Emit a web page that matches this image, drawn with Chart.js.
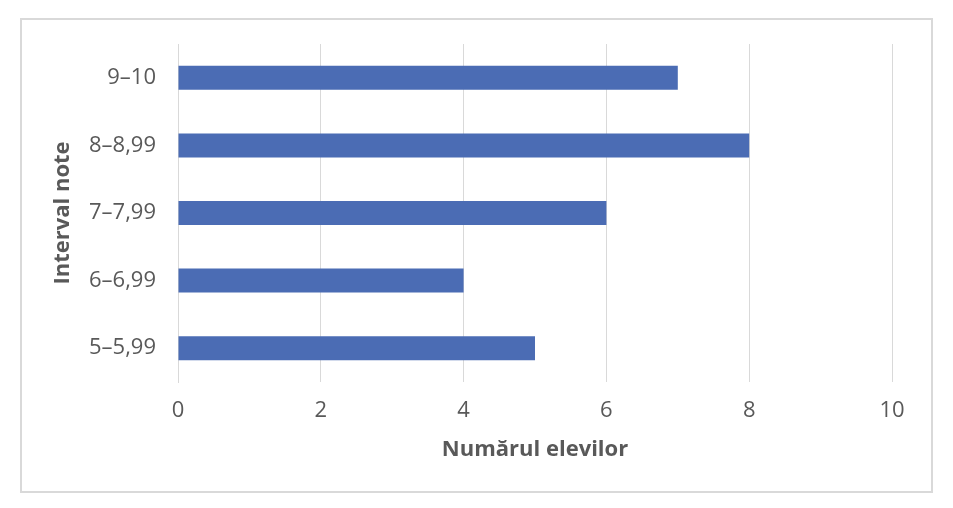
<!DOCTYPE html>
<html>
<head>
<meta charset="utf-8">
<script src="https://cdn.jsdelivr.net/npm/chart.js@4"></script>
<style>
  html, body { margin: 0; padding: 0; background: #fff; }
  #wrap { width: 953px; height: 508px; position: relative; }
</style>
</head>
<body>
<div id="wrap"><canvas id="gradeChart" width="953" height="508"></canvas></div>
<script>
// Data
const intervals = ["9–10", "8–8,99", "7–7,99", "6–6,99", "5–5,99"];
const studentCounts = [7, 8, 6, 4, 5];
const xTicks = [0, 2, 4, 6, 8, 10];

const fontFamily = "'Open Sans', 'Noto Sans', sans-serif";
const gray = "#595959";

// Light outer frame like the Excel chart border
const framePlugin = {
    id: "frame",
    beforeDraw(chart) {
        const ctx = chart.ctx;
        ctx.save();
        ctx.fillStyle = "#fff";
        ctx.fillRect(0, 0, chart.width, chart.height);
        ctx.strokeStyle = "#d9d9d9";
        ctx.lineWidth = 2;
        ctx.strokeRect(21, 19, 911, 473);
        ctx.restore();
    }
};

const ctx = document.getElementById("gradeChart");
new Chart(ctx, {
    type: "bar",
    data: {
        labels: intervals,
        datasets: [{
            label: "Numărul elevilor",
            data: studentCounts,
            backgroundColor: "#4b6cb4",
            barPercentage: 0.355,
            categoryPercentage: 1
        }]
    },
    options: {
        indexAxis: "y",
        responsive: false,
        animation: false,
        layout: { padding: { left: 0, top: 44, right: 61, bottom: 0 } },
        plugins: {
            legend: { display: false },
            tooltip: { enabled: false }
        },
        scales: {
            x: {
                min: 0,
                max: 10,
                afterBuildTicks: scale => { scale.ticks = xTicks.map(v => ({ value: v })); },
                afterFit: scale => { scale.height = 126; },
                grid: { color: "#d9d9d9", lineWidth: 1, drawTicks: false },
                border: { display: false },
                ticks: { color: gray, font: { family: fontFamily, size: 22 }, padding: 16 },
                title: {
                    display: true,
                    text: "Numărul elevilor",
                    color: gray,
                    font: { family: fontFamily, size: 22, weight: "bold" },
                    padding: { top: 0, bottom: 45 }
                }
            },
            y: {
                afterFit: scale => { scale.width = 178; },
                grid: { display: false, drawTicks: false },
                border: { display: true, color: "#d9d9d9", width: 1 },
                ticks: { color: gray, font: { family: fontFamily, size: 22 }, padding: 22 },
                title: {
                    display: true,
                    text: "Interval note",
                    color: gray,
                    font: { family: fontFamily, size: 22, weight: "bold" },
                    padding: { top: 50, bottom: 0 }
                }
            }
        }
    },
    plugins: [framePlugin]
});
</script>
</body>
</html>
